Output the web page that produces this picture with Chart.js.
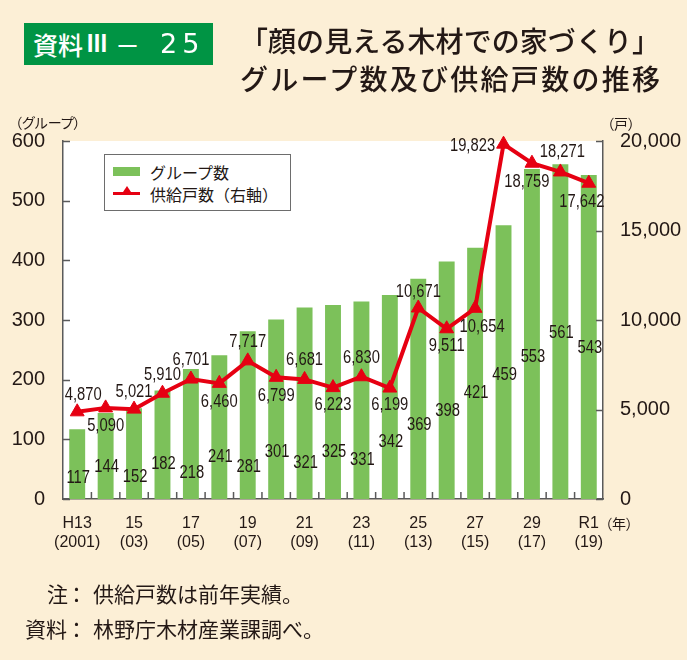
<!DOCTYPE html>
<html lang="ja">
<head>
<meta charset="utf-8">
<title>「顔の見える木材での家づくり」グループ数及び供給戸数の推移</title>
<script src="https://cdn.jsdelivr.net/npm/chart.js@4.4.1/dist/chart.umd.min.js"></script>
<style>
  html, body { margin: 0; padding: 0; background: #fcefd6; }
  #wrap { position: relative; width: 687px; height: 660px; overflow: hidden; }
  #chart { position: absolute; left: 0; top: 0; }
  .txt { position: absolute; white-space: nowrap; color: #231815; font-family: "Noto Sans CJK JP", "Noto Sans", sans-serif; }
  .just { text-align: justify; text-align-last: justify; }
  #badge { left: 24px; top: 23px; width: 189px; height: 42px; background: #009444; }
  #badge span { position: absolute; top: 0; line-height: 42px; color: #fff; font-size: 25px; font-weight: 500; }
  #badge span.roman { transform: scaleX(1.45); transform-origin: left center; font-family: "DejaVu Sans", sans-serif; font-weight: normal; font-size: 24px; }
  #badge span.num { font-family: "DejaVu Sans", sans-serif; font-size: 27px; font-weight: normal; letter-spacing: 5px; }
  .title { left: 240px; width: 420px; font-size: 28px; line-height: 32px; font-weight: 500; }
  .unit { font-size: 14px; line-height: 16px; font-feature-settings: "palt"; }
  .note { font-size: 21px; line-height: 24px; }
  #legend { position: absolute; left: 104px; top: 154px; width: 185px; height: 55px; border: 1px solid #6d6d6d; background: #fff; }
  .sw { position: absolute; }
  .leg { font-size: 16px; line-height: 20px; }
</style>
</head>
<body>
<div id="wrap">
  <canvas id="chart" width="687" height="660"></canvas>

  <div id="badge" class="txt">
    <span style="left:9px;">資料</span>
    <span class="roman" style="left:61px;">Ⅲ</span>
    <span style="left:91px;">－</span>
    <span class="num" style="left:136px;">25</span>
  </div>
  <div class="txt title just" style="top:24px;">「顔の見える木材での家づくり」</div>
  <div class="txt title just" style="top:62px;">グループ数及び供給戸数の推移</div>

  <div class="txt unit" style="left:15px; top:114px;">（グループ）</div>
  <div class="txt unit" style="left:607px; top:115px;">（戸）</div>
  <div class="txt unit" style="left:605px; top:515px;">（年）</div>

  <div id="legend">
    <div class="sw" style="left:8px; top:12px; width:27px; height:9px; background:#7cc15a;"></div>
    <div class="txt leg" style="left:45px; top:7px;">グループ数</div>
    <div class="sw" style="left:8px; top:37px; width:27px; height:3px; background:#e60012;"></div>
    <div class="sw" style="left:16px; top:31px; width:0; height:0; border-left:6px solid transparent; border-right:6px solid transparent; border-bottom:9px solid #e60012;"></div>
    <div class="txt leg" style="left:45px; top:29px;">供給戸数（右軸）</div>
  </div>

  <div class="txt note" style="left:47px; top:581px;">注</div>
  <div class="txt note" style="left:66px; top:581px;">：</div>
  <div class="txt note" style="left:93px; top:581px;">供給戸数は前年実績。</div>
  <div class="txt note" style="left:25px; top:616px;">資料</div>
  <div class="txt note" style="left:66px; top:616px;">：</div>
  <div class="txt note" style="left:93px; top:616px;">林野庁木材産業課調べ。</div>
</div>

<script>
  const categories = ["H13", "14", "15", "16", "17", "18", "19", "20", "21", "22",
    "23", "24", "25", "26", "27", "28", "29", "30", "R1"];
  const yearLabels = ["(2001)", "(02)", "(03)", "(04)", "(05)", "(06)", "(07)", "(08)", "(09)", "(10)",
    "(11)", "(12)", "(13)", "(14)", "(15)", "(16)", "(17)", "(18)", "(19)"];

  // グループ数（左軸）
  const groupCounts = [117, 144, 152, 182, 218, 241, 281, 301, 321, 325,
    331, 342, 369, 398, 421, 459, 553, 561, 543];
  // 供給戸数（右軸）
  const supplyHouses = [4870, 5090, 5021, 5910, 6701, 6460, 7717, 6799, 6681, 6223,
    6830, 6199, 10671, 9511, 10654, 19823, 18759, 18271, 17642];

  const leftTicks = [0, 100, 200, 300, 400, 500, 600];
  const rightTicks = [0, 5000, 10000, 15000, 20000];

  // label placement (px): bar labels lifted from baseline, line labels shifted from point
  const barLabelLift = [21, 32, 22, 35, 26, 42, 32, 47, 36, 47, 39, 57, 74, 88, 106, 124, 142, 166, 151];
  const lineLabelShift = [[6, -17], [0, 18], [0, -17], [0, -18], [0, -19], [0, 19], [0, -19], [0, 19],
    [0, -19], [0, 17], [0, -19], [0, 17], [0, -16], [0, 17], [7, 19], [-31, 2], [-5, 19], [2, -20], [-7, 19]];

  const BG = "#fcefd6";
  const GREEN = "#7cc15a";
  const RED = "#e60012";
  const AXIS = "#5a5a5a";
  const INK = "#231815";
  const NUM_FONT = '"Liberation Sans", Arial, sans-serif';
  const LABEL_FONT = '18px "Liberation Sans", Arial, sans-serif';
  const NARROW = 0.82;
  const TICK_LEN = 7;

  function fmtNum(v) {
    return Number(v).toLocaleString("en-US");
  }

  // condensed number, like the narrow face used in the print
  function drawNarrow(ctx, text, x, y) {
    ctx.save();
    ctx.translate(x, y);
    ctx.scale(NARROW, 1);
    ctx.fillText(text, 0, 0);
    ctx.restore();
  }

  const decorPlugin = {
    id: "decor",
    beforeDraw(chart) {
      const { ctx, chartArea: a } = chart;
      ctx.save();
      ctx.fillStyle = BG;
      ctx.fillRect(0, 0, chart.width, chart.height);
      ctx.fillStyle = "#fff";
      ctx.fillRect(a.left, a.top, a.right - a.left, a.bottom - a.top);
      ctx.restore();
    },
    afterDatasetsDraw(chart) {
      const { ctx } = chart;
      const yScale = chart.scales.y;
      const bars = chart.getDatasetMeta(1).data;
      const points = chart.getDatasetMeta(0).data;
      ctx.save();
      ctx.font = LABEL_FONT;
      ctx.fillStyle = INK;
      ctx.textAlign = "center";
      ctx.textBaseline = "middle";
      const base = yScale.getPixelForValue(0);
      bars.forEach((bar, i) => {
        drawNarrow(ctx, fmtNum(groupCounts[i]), bar.x + 1, base - barLabelLift[i]);
      });
      points.forEach((pt, i) => {
        const [dx, dy] = lineLabelShift[i];
        drawNarrow(ctx, fmtNum(supplyHouses[i]), pt.x + dx, pt.y + dy);
      });
      ctx.restore();
    },
    afterDraw(chart) {
      const { ctx, chartArea: a, scales } = chart;
      ctx.save();
      ctx.strokeStyle = AXIS;
      ctx.lineWidth = 1.5;
      ctx.beginPath();
      leftTicks.forEach((v) => {
        const y = Math.round(scales.y.getPixelForValue(v)) + 0.5;
        ctx.moveTo(a.left, y);
        ctx.lineTo(a.left + TICK_LEN, y);
      });
      rightTicks.forEach((v) => {
        const y = Math.round(scales.y1.getPixelForValue(v)) + 0.5;
        ctx.moveTo(a.right, y);
        ctx.lineTo(a.right - TICK_LEN, y);
      });
      for (let i = 1; i < categories.length; i++) {
        const x = (scales.x.getPixelForValue(i - 1) + scales.x.getPixelForValue(i)) / 2;
        ctx.moveTo(x, a.bottom);
        ctx.lineTo(x, a.bottom - TICK_LEN);
      }
      ctx.stroke();
      ctx.restore();
    },
  };

  const ctx = document.getElementById("chart").getContext("2d");
  new Chart(ctx, {
    data: {
      labels: categories,
      datasets: [
        {
          type: "line",
          label: "供給戸数（右軸）",
          data: supplyHouses,
          yAxisID: "y1",
          order: 0,
          borderColor: RED,
          backgroundColor: RED,
          borderWidth: 4,
          tension: 0,
          pointStyle: "triangle",
          pointRadius: 8,
          pointBackgroundColor: RED,
          pointBorderColor: RED,
          pointBorderWidth: 1,
          clip: false,
        },
        {
          type: "bar",
          label: "グループ数",
          data: groupCounts,
          yAxisID: "y",
          order: 1,
          backgroundColor: GREEN,
          barPercentage: 0.56,
          categoryPercentage: 1,
        },
      ],
    },
    options: {
      responsive: false,
      animation: false,
      devicePixelRatio: 1,
      layout: { padding: { top: 141, left: 0, right: 0, bottom: 0 } },
      plugins: { legend: { display: false }, tooltip: { enabled: false }, title: { display: false } },
      scales: {
        x: {
          offset: true,
          grid: { display: false },
          border: { display: true, color: AXIS, width: 1.5 },
          ticks: {
            autoSkip: false,
            maxRotation: 0,
            padding: 7,
            color: INK,
            font: { family: NUM_FONT, size: 16, lineHeight: 1.2 },
            callback: (v, i) => (i % 2 === 0 ? [categories[i], yearLabels[i]] : ""),
          },
          afterFit: (scale) => { scale.height = 161; },
        },
        y: {
          position: "left",
          min: 0,
          max: 600,
          grid: { display: false },
          border: { display: true, color: AXIS, width: 1.5 },
          ticks: {
            stepSize: 100,
            padding: 10,
            color: INK,
            font: { family: NUM_FONT, size: 20 },
          },
          afterFit: (scale) => { scale.width = 63; },
        },
        y1: {
          position: "right",
          min: 0,
          max: 20000,
          grid: { display: false },
          border: { display: true, color: AXIS, width: 1.5 },
          ticks: {
            stepSize: 5000,
            padding: 9,
            color: INK,
            font: { family: NUM_FONT, size: 20 },
            callback: (v) => fmtNum(v),
          },
          afterFit: (scale) => { scale.width = 84; },
        },
      },
    },
    plugins: [decorPlugin],
  });
</script>
</body>
</html>
